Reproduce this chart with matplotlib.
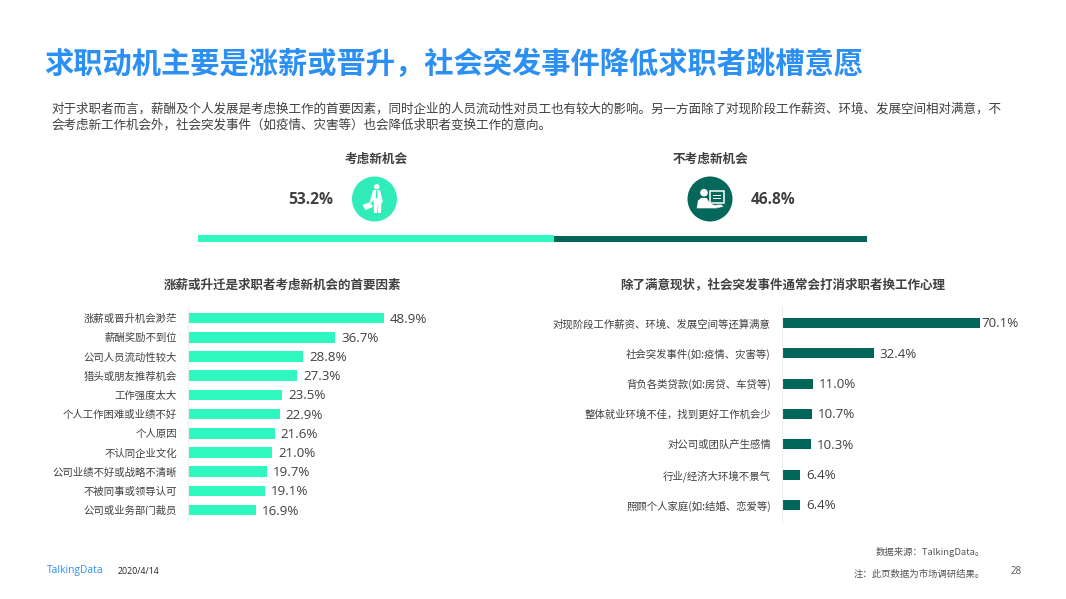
import matplotlib
matplotlib.use("Agg")
import matplotlib.pyplot as plt
from matplotlib.patches import Circle, Rectangle, Polygon

W, H = 1066, 599
LIGHT = "#2EF8C0"
DARK = "#00665A"
BLUE = "#2B8FF3"
GREY = "#404040"
CJK = "Noto Sans CJK SC"
NUM = "Open Sans"

title = "求职动机主要是涨薪或晋升，社会突发事件降低求职者跳槽意愿"
intro = ["对于求职者而言，薪酬及个人发展是考虑换工作的首要因素，同时企业的人员流动性对员工也有较大的影响。另一方面除了对现阶段工作薪资、环境、发展空间相对满意，不",
         "会考虑新工作机会外，社会突发事件（如疫情、灾害等）也会降低求职者变换工作的意向。"]
split_names = ["考虑新机会", "不考虑新机会"]
split_values = [53.2, 46.8]

left_title = "涨薪或升迁是求职者考虑新机会的首要因素"
left_cats = ["涨薪或晋升机会渺茫", "薪酬奖励不到位", "公司人员流动性较大", "猎头或朋友推荐机会", "工作强度太大",
             "个人工作困难或业绩不好", "个人原因", "不认同企业文化", "公司业绩不好或战略不清晰",
             "不被同事或领导认可", "公司或业务部门裁员"]
left_vals = [48.9, 36.7, 28.8, 27.3, 23.5, 22.9, 21.6, 21.0, 19.7, 19.1, 16.9]

right_title = "除了满意现状，社会突发事件通常会打消求职者换工作心理"
right_cats = ["对现阶段工作薪资、环境、发展空间等还算满意", "社会突发事件(如:疫情、灾害等)", "背负各类贷款(如:房贷、车贷等)",
              "整体就业环境不佳，找到更好工作机会少", "对公司或团队产生感情", "行业/经济大环境不景气", "照顾个人家庭(如:结婚、恋爱等)"]
right_vals = [70.1, 32.4, 11.0, 10.7, 10.3, 6.4, 6.4]

fig = plt.figure(figsize=(W / 100, H / 100), dpi=100, facecolor="white")


def axes_px(x0, y0, x1, y1):
    return fig.add_axes([x0 / W, 1 - y1 / H, (x1 - x0) / W, (y1 - y0) / H])


# page layer, in pixel coordinates
bg = axes_px(0, 0, W, H)
bg.set_xlim(0, W)
bg.set_ylim(H, 0)
bg.axis("off")


def t(x, y, s, size, color=GREY, ha="left", weight="normal", family=CJK, style="normal"):
    bg.text(x, y, s, fontsize=size, color=color, ha=ha, va="center", fontweight=weight,
            family=family, fontstyle=style)


t(44.5, 64, title, 21.1, BLUE, weight="bold")
t(51, 109, intro[0], 9.04, GREY)
t(51, 125, intro[1], 9.04, GREY)
t(376, 159, split_names[0], 9.1, GREY, "center", "bold")
t(710, 159, split_names[1], 9.1, GREY, "center", "bold")
t(333, 200, f"{split_values[0]}%", 11.2, GREY, "right", "bold", NUM)
t(751, 200, f"{split_values[1]}%", 11.2, GREY, "left", "bold", NUM)
t(282.5, 285, left_title, 9.03, GREY, "center", "bold")
t(782.5, 285, right_title, 9.03, GREY, "center", "bold")

# icon: man with briefcase
bg.add_patch(Circle((374.5, 199), 22.5, color="#30ECB8", lw=0))
bg.add_patch(Circle((376.7, 186.7), 2.7, color="white", lw=0))
bg.add_patch(Polygon([(373, 190), (380, 190), (383, 202), (381.5, 202.5), (381, 213), (378, 213), (377.5, 204),
                      (377, 213), (374, 213), (373.5, 200), (371, 203), (370, 201)], color="white", lw=0))
bg.add_patch(Polygon([(376.2, 190), (377.2, 190), (377.6, 197), (376.7, 199), (375.8, 197)], color="#30ECB8", lw=0))
bg.add_patch(Polygon([(362.5, 205), (370, 202), (373, 207), (365.5, 210)], color="white", lw=0))

# icon: person at a screen
bg.add_patch(Circle((710, 199), 22.5, color="#05685B", lw=0))
bg.add_patch(Circle((704, 192.7), 3.8, color="white", lw=0))
bg.add_patch(Polygon([(696.7, 208.3), (698, 200.5), (701, 198), (706.7, 198), (710, 203.3), (716.7, 206), (717.3, 208.3)],
                     color="white", lw=0))
bg.add_patch(Rectangle((709.8, 190.5), 14.6, 12, fc="#05685B", ec="white", lw=1.1))
bg.add_patch(Rectangle((713, 195), 8, 0.9, color="white", lw=0))
bg.add_patch(Rectangle((713, 197.6), 8, 0.9, color="white", lw=0))
bg.add_patch(Polygon([(715, 205), (721, 204.5), (723.5, 206.5), (718, 208)], color="white", lw=0))

# footer
t(47, 571, "TalkingData", 7.4, BLUE, family=NUM)
t(118, 572, "2020/4/14", 6.3, "#222222", family=NUM)
t(985, 552, "数据来源：TalkingData。", 6.75, "#555555", "right", style="italic")
t(985, 574, "注：此页数据为市场调研结果。", 6.75, "#555555", "right", style="italic")
t(1016.5, 571, "28", 7, "#555555", "center", family=NUM)

# split bar
top = axes_px(198, 234, 867, 243)
top.set_xlim(0, sum(split_values))
top.set_ylim(0, 1)
top.axis("off")
top.barh([0.5], [split_values[0]], height=0.85, left=0, color=LIGHT, lw=0)
top.barh([0.45], [split_values[1]], height=0.7, left=split_values[0], color=DARK, lw=0)


def hbars(box, cats, vals, color, x_max, bar_h, pad, lab_size=7.5, val_size=9.6):
    ax = axes_px(*box)
    y = list(range(len(cats)))
    ax.barh(y, vals, height=bar_h, color=color, lw=0)
    ax.set_yticks(y, cats, family=CJK, fontsize=lab_size, color=GREY)
    ax.set_ylim(len(cats) - 0.45, -0.55)
    ax.set_xlim(0, x_max)
    ax.xaxis.set_visible(False)
    ax.tick_params(axis="y", length=0, pad=pad)
    for s in ("top", "right", "bottom"):
        ax.spines[s].set_visible(False)
    ax.spines["left"].set_color("#EDEDED")
    ax.spines["left"].set_linewidth(0.8)
    ax.patch.set_alpha(0)
    for yi, v in zip(y, vals):
        ax.annotate(f"{v:.1f}%", (v, yi), xytext=(1 if v > 60 else 6, -1), textcoords="offset pixels",
                    va="center", ha="left", fontsize=val_size, color=GREY, family=NUM)
    return ax


hbars((188, 307.5, 438, 520.6), left_cats, left_vals, LIGHT, 250 / 4.008, 0.55, 8)
hbars((782, 306.3, 1040, 521.6), right_cats, right_vals, DARK, 258 / 2.83, 0.33, 8)

fig.savefig("out.png", dpi=100, facecolor="white")
